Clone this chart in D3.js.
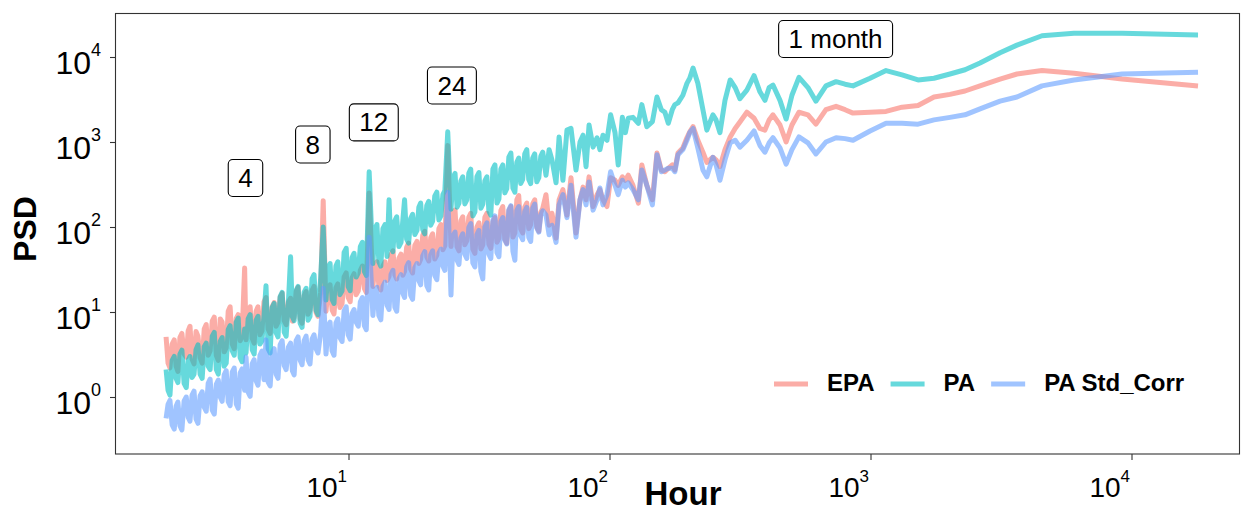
<!DOCTYPE html>
<html>
<head>
<meta charset="utf-8">
<script src="https://cdn.jsdelivr.net/npm/d3@7"></script>
<style>
body { margin: 0; background: #ffffff; }
svg { display: block; font-family: "Liberation Sans", Arial, sans-serif; }
</style>
</head>
<body>
<svg width="1241" height="512"></svg>
<script>
// period in hours, shared by the three spectra
var hours = [
    2.00, 2.035, 2.07, 2.11, 2.15, 2.185, 2.22, 2.26, 2.30, 2.345,
    2.39, 2.43, 2.47, 2.515, 2.56, 2.605, 2.65, 2.70, 2.75, 2.80,
    2.85, 2.90, 2.95, 3.005, 3.06, 3.115, 3.17, 3.225, 3.28, 3.34,
    3.40, 3.46, 3.52, 3.585, 3.65, 3.715, 3.78, 3.845, 3.91,
    4.00, 4.05,
    4.125, 4.20, 4.275, 4.35, 4.425, 4.50, 4.58, 4.66, 4.745, 4.83,
    4.92, 5.01, 5.10, 5.19, 5.28, 5.37, 5.47, 5.57, 5.67, 5.77,
    5.885, 6.00, 6.095, 6.19, 6.30, 6.41, 6.525, 6.64, 6.76, 6.88,
    7.00, 7.12, 7.25, 7.38, 7.51, 7.64,
    7.82, 8.00, 8.20,
    8.35, 8.50, 8.65, 8.80, 8.95, 9.10, 9.27, 9.45, 9.62, 9.80,
    9.97, 10.15, 10.32, 10.5, 10.7, 10.9, 11.1, 11.3, 11.5, 11.7,
    12.0, 12.4,
    12.62, 12.85, 13.07, 13.3, 13.55, 13.8, 14.05, 14.3, 14.55, 14.8,
    15.05, 15.3, 15.6, 15.9, 16.15, 16.4, 16.7, 17.0, 17.3, 17.6,
    17.95, 18.3, 18.6, 18.9, 19.25, 19.6, 19.95, 20.3, 20.65, 21.0,
    21.4, 21.8, 22.2, 22.6, 23.0, 23.4,
    24.0, 24.7,
    25.15, 25.6, 26.05, 26.5, 26.95, 27.4, 27.9, 28.4, 28.9, 29.4,
    29.95, 30.5, 31.05, 31.6, 32.15, 32.7, 33.3, 33.9, 34.5, 35.1,
    35.75, 36.4, 37.05, 37.7, 38.35, 39.0, 39.7, 40.4, 41.15, 41.9,
    42.65, 43.4, 44.15, 44.9, 45.7, 46.5, 47.35, 48.2, 49.05, 49.9,
    50.8, 51.7, 52.65, 53.6, 54.55, 55.5,
    57.1, 58.7, 60.2, 62.4, 64.1, 66.3, 68.7, 71.2, 74.4, 77.1,
    79.2, 81.3, 83.5, 86.5, 89.6, 91.9, 94.4, 97.8, 101, 105,
    108, 112, 115, 118, 123, 129, 133, 139, 146, 152,
    158, 163, 168, 174, 178, 183, 191, 198, 203, 209,
    218, 228, 236, 249, 256, 265, 277, 290, 303, 316,
    336, 358, 377, 394, 409, 423, 450, 475, 500, 532,
    576, 618, 675, 738, 799, 857, 996, 1147, 1321, 1521,
    1751, 2016, 2302, 2628, 3136, 3641, 4540, 6021, 9196, 17982
];

var psd_epa = [
    5.1, 2.5, 2.2, 4.2, 4.7, 2.3, 2.0, 5.0, 5.6, 3.2,
    2.95, 6.0, 6.8, 2.8, 2.45, 5.9, 5.2, 2.9, 2.5, 6.3,
    7.1, 3.1, 3.5, 7.8, 8.7, 3.1, 2.7, 8.3, 7.6, 3.4,
    3.8, 10.2, 11.5, 4.2, 3.7, 8.4, 9.3, 4.6, 5.2,
    33, 4.7,
    10.3, 11.5, 4.9, 4.3, 10.2, 11.5, 5.4, 6.0, 13.2, 14.8,
    6.3, 5.6, 11.6, 12.9, 6.8, 7.6, 14.9, 16.6, 7.9, 7.1,
    13.0, 14.5, 7.8, 8.7, 17.5, 19.5, 8.3, 7.4, 15.6, 17.4,
    9.4, 10.5, 18, 20, 9.9, 8.9,
    17, 204, 10.2,
    18.8, 20.9, 10.6, 9.5, 19.2, 21.4, 11.3, 12.6, 25.8, 28.8,
    14.8, 13.2, 25.3, 28.2, 16, 17.8, 31, 34.7, 19, 17,
    251, 20,
    34.8, 38.9, 20.4, 18.2, 34.8, 38.9, 23.5, 26.3, 47, 52.5,
    27.4, 24.5, 42.8, 47.9, 27, 30.2, 57.8, 64.6, 32.2, 28.8,
    60.5, 67.6, 37.3, 41.7, 79.7, 89.1, 44.5, 39.8, 74.4, 83.2,
    41.9, 46.8, 95.7, 107, 54, 60.3,
    912, 58.9,
    141, 158, 58.7, 52.5, 118, 132, 61.9, 69.2, 130, 145,
    54.8, 49, 100, 112, 55.2, 61.7, 130, 145, 62.8, 56.2,
    115, 129, 66.3, 74.1, 156, 174, 72.2, 64.6, 156, 174,
    76.1, 85.1, 209, 234, 95.2, 85.1, 171, 191, 95.7, 107,
    187, 209, 99.7, 89.1, 149, 166,
    240, 105, 145, 74, 209, 275, 138, 380, 85, 209,
    295, 209, 389, 174, 240, 275, 209, 174, 380, 355,
    309, 389, 355, 407, 309, 191, 537, 309, 209, 741,
    468, 447, 490, 537, 468, 741, 851, 1122, 1318, 1514,
    1047, 759, 575, 661, 617, 513, 813, 1148, 1445, 1720,
    2239, 1905, 1445, 1380, 1820, 2089, 1585, 1000, 1585, 2239,
    2089, 1622, 2399, 2630, 2399, 2188, 2239, 2291, 2570, 2690,
    3388, 3631, 3981, 4570, 5495, 6310, 6918, 6457, 5495, 4571
];

var psd_pa = [
    2.1, 1.2, 1.05, 2.7, 3.0, 1.65, 1.48, 3.2, 3.55, 1.45,
    1.29, 2.7, 3.0, 1.7, 1.86, 3.6, 4.1, 1.86, 1.66, 3.9,
    4.3, 2.3, 2.1, 5.2, 5.75, 2.1, 1.86, 4.5, 5.0, 2.3,
    2.5, 6.2, 6.9, 3.5, 3.1, 7.6, 8.5, 2.9, 2.6,
    6.3, 3.3,
    8.3, 9.3, 3.6, 3.2, 8.0, 8.9, 4.2, 4.6, 9.0, 20.4,
    3.7, 3.3, 11.3, 12.6, 5.7, 5.1, 15.2, 17, 5.8, 5.2,
    13, 44.7, 8.8, 7.9, 17.9, 20, 7.4, 6.6, 17, 19,
    8.0, 8.9, 24.6, 27.5, 10.4, 9.3,
    25, 100, 13.8,
    33.3, 37.2, 14.1, 12.6, 34.8, 38.9, 16, 17.8, 50.3, 56.2,
    19.9, 17.8, 43.8, 49, 25.8, 28.8, 59, 66, 30, 26.9,
    447, 37.2,
    95.7, 107, 38.8, 34.7, 95.7, 107, 45, 209, 57.4, 51.3,
    118, 132, 59, 66, 120, 209, 72, 64.6, 126, 141,
    81.6, 91.2, 171, 191, 93, 83.2, 179, 200, 105, 117,
    230, 257, 121, 135, 241, 269,
    1318, 162,
    382, 427, 171, 191, 348, 389, 187, 209, 428, 479,
    135, 151, 391, 437, 166, 186, 348, 389, 154, 138,
    480, 537, 191, 214, 480, 537, 252, 282, 663, 741,
    287, 257, 578, 646, 325, 363, 727, 813, 362, 324,
    648, 724, 340, 380, 679, 759,
    407, 813, 617, 331, 1148, 355, 1380, 1445, 468, 1000,
    1202, 513, 1585, 871, 1122, 813, 1202, 1047, 2089, 1288,
    537, 1950, 1288, 1905, 1950, 1660, 2754, 1514, 1738, 3388,
    2399, 2239, 1660, 2399, 2754, 2884, 3548, 4898, 5623, 7413,
    4898, 2399, 1380, 2089, 1820, 1288, 3090, 5370, 4365, 3236,
    4074, 6026, 3890, 3090, 4365, 4677, 3090, 1862, 3548, 5754,
    4365, 3020, 4571, 5129, 4786, 4571, 5623, 6918, 6166, 5370,
    5623, 6310, 7079, 8511, 11220, 13800, 17780, 19050, 19050, 18200
];

var psd_pa_std = [
    0.56, 0.82, 0.91, 0.47, 0.42, 0.78, 0.87, 0.46, 0.41, 0.9,
    1.0, 0.58, 0.52, 1.05, 1.17, 0.55, 0.49, 1.03, 1.15, 0.76,
    0.68, 1.45, 1.62, 0.7, 0.63, 1.41, 1.58, 1.0, 0.89, 1.82,
    2.04, 0.88, 0.79, 1.96, 2.19, 0.83, 0.74, 1.91, 2.14,
    1.2, 2.95,
    1.14, 1.02, 2.46, 2.75, 1.55, 1.38, 3.1, 3.47, 1.6, 4.7,
    1.5, 1.35, 3.3, 3.7, 1.86, 1.66, 4.1, 4.6, 2.35, 2.1,
    3.85, 4.3, 2.04, 1.82, 4.6, 5.1, 2.7, 2.4, 4.6, 5.2,
    2.75, 2.45, 4.8, 5.4, 3.7, 3.3,
    5.6, 19, 3.2,
    6.8, 7.6, 3.5, 3.1, 7.4, 8.3, 5.0, 4.5, 10.3, 11.5,
    5.4, 4.8, 9.6, 10.7, 7.6, 6.8, 13.2, 14.8, 6.9, 6.2,
    76, 9.1,
    17.4, 19.5, 9.1, 8.1, 20, 22.4, 12, 10.7, 27.6, 30.9,
    11.4, 10.2, 24.6, 27.5, 16.6, 14.8, 34, 38, 15.8, 14.1,
    33.3, 37.2, 23.4, 20.9, 45.9, 51.3, 20.4, 18.2, 47, 52.5,
    26.9, 24, 49.2, 55, 34.6, 30.9,
    257, 15.8,
    77.9, 87.1, 40.6, 36.3, 74.4, 83.2, 47.8, 42.7, 98.4, 110,
    37.9, 33.9, 81.6, 91.2, 30, 24.5, 100, 112, 47.8, 42.7,
    121, 135, 50, 44.7, 115, 129, 70.6, 63.1, 159, 178,
    52, 40.7, 156, 174, 79.2, 70.8, 152, 170, 75.6, 67.6,
    166, 186, 97.4, 87.1, 139, 155,
    138, 81, 105, 66, 182, 240, 129, 309, 76, 209,
    275, 182, 339, 158, 209, 288, 182, 240, 447, 309,
    240, 355, 295, 331, 275, 209, 468, 309, 182, 708,
    447, 468, 490, 490, 447, 708, 813, 1047, 1288, 1445,
    851, 468, 389, 661, 537, 355, 617, 977, 1047, 871,
    1047, 1349, 912, 759, 977, 1122, 851, 550, 813, 1148,
    977, 724, 1000, 1122, 1096, 1047, 1349, 1660, 1660, 1622,
    1820, 1950, 2089, 2455, 3020, 3388, 4571, 5370, 6310, 6607
];

var series_names = ["EPA", "PA", "PA Std_Corr"];
var series_colors = ["#F8766D", "#00BFC4", "#619CFF"];

var x_ticks = [10, 100, 1000, 10000];
var y_ticks = [1, 10, 100, 1000, 10000];

// boxed labels for the daily harmonics and the month
var note_labels = ["4", "8", "12", "24", "1 month"];
var note_hours = [4.03, 7.3, 12.5, 24.9, 735];
var note_psd = [377, 934, 1700, 4620, 16300];

var svg = d3.select("svg");
var panel = {left: 116, top: 14, right: 1240, bottom: 454};

//log scales, pinned on the decade ticks
var x = d3.scaleLog().domain([10, 10000]).range([348.5, 1131.5]);
var y = d3.scaleLog().domain([1, 10000]).range([397, 57]);

svg.append("defs").append("clipPath")
    .attr("id", "panel-clip")
  .append("rect")
    .attr("x", panel.left)
    .attr("y", panel.top)
    .attr("width", panel.right - panel.left)
    .attr("height", panel.bottom - panel.top);

//draw the three spectra, EPA first so PA and PA Std_Corr sit on top
var series_values = [psd_epa, psd_pa, psd_pa_std];
var line = d3.line()
    .x(function(d) { return x(d[0]); })
    .y(function(d) { return y(d[1]); });

var lines = svg.append("g")
    .attr("class", "lines")
    .attr("clip-path", "url(#panel-clip)");

series_values.forEach(function(vals, i) {
    var pts = hours.map(function(h, j) { return [h, vals[j]]; });
    lines.append("path")
        .datum(pts)
        .attr("d", line)
        .attr("fill", "none")
        .attr("stroke", series_colors[i])
        .attr("stroke-opacity", 0.6)
        .attr("stroke-width", 5)
        .attr("stroke-linejoin", "round");
});

//panel border
svg.append("rect")
    .attr("x", panel.left - 0.5)
    .attr("y", panel.top - 0.5)
    .attr("width", panel.right - panel.left)
    .attr("height", panel.bottom - panel.top + 0.5)
    .attr("fill", "none")
    .attr("stroke", "#333333")
    .attr("stroke-width", 1.1);

//axes: ticks from d3, labels written as 10 with a superscript
function power_label(sel, size, sup_size, dx, dy, rise) {
    sel.selectAll(".tick text").remove();
    sel.selectAll(".tick").append("text")
        .attr("x", dx)
        .attr("y", dy)
        .attr("text-anchor", "end")
        .attr("fill", "#000000")
        .style("font-size", size + "px")
        .each(function(d) {
            var t = d3.select(this);
            t.append("tspan").text("10");
            t.append("tspan")
                .attr("dy", -rise)
                .style("font-size", sup_size + "px")
                .text(Math.round(Math.log10(d)));
        });
}

var gx = svg.append("g")
    .attr("transform", "translate(0," + panel.bottom + ")")
    .call(d3.axisBottom(x).tickValues(x_ticks).tickSize(6).tickSizeOuter(0));
gx.attr("font-family", null).attr("font-size", null);
gx.select(".domain").remove();
gx.selectAll(".tick line").attr("stroke", "#333333").attr("stroke-width", 1.1);
power_label(gx, 28, 17, -2, 43, 15);

var gy = svg.append("g")
    .attr("transform", "translate(" + panel.left + ",0)")
    .call(d3.axisLeft(y).tickValues(y_ticks).tickSize(6).tickSizeOuter(0));
gy.attr("font-family", null).attr("font-size", null);
gy.select(".domain").remove();
gy.selectAll(".tick line").attr("stroke", "#333333").attr("stroke-width", 1.1);
power_label(gy, 32, 18, -15, 16, 18);

//axis titles
svg.append("text")
    .attr("transform", "translate(36,229) rotate(-90)")
    .attr("text-anchor", "middle")
    .style("font-size", "32px")
    .style("font-weight", "bold")
    .text("PSD");

svg.append("text")
    .attr("x", 683)
    .attr("y", 505)
    .attr("text-anchor", "middle")
    .style("font-size", "33px")
    .style("font-weight", "bold")
    .text("Hour");

//boxed period labels
var notes = svg.append("g").attr("class", "notes");
note_labels.forEach(function(lab, i) {
    var cx = x(note_hours[i]),
        cy = y(note_psd[i]);
    var g = notes.append("g");
    var box = g.append("rect");
    var txt = g.append("text")
        .attr("x", cx)
        .attr("y", cy + 9)
        .attr("text-anchor", "middle")
        .style("font-size", "26px")
        .text(lab);
    var w = txt.node().getComputedTextLength() + 20;
    box.attr("x", cx - w / 2)
        .attr("y", cy - 18.5)
        .attr("width", w)
        .attr("height", 37)
        .attr("rx", 4.5)
        .attr("fill", "#ffffff")
        .attr("stroke", "#000000")
        .attr("stroke-width", 1.1);
});

//legend inside the panel, bottom right
var legend = svg.append("g").attr("class", "legend");
var leg_x = 774, leg_y = 384;
series_names.forEach(function(name, i) {
    legend.append("line")
        .attr("x1", leg_x)
        .attr("x2", leg_x + 34)
        .attr("y1", leg_y)
        .attr("y2", leg_y)
        .attr("stroke", series_colors[i])
        .attr("stroke-opacity", 0.6)
        .attr("stroke-width", 5);
    var t = legend.append("text")
        .attr("x", leg_x + 53)
        .attr("y", leg_y + 7)
        .style("font-size", "24px")
        .style("font-weight", "bold")
        .text(name);
    leg_x += 53 + t.node().getComputedTextLength() + 16;
});
</script>
</body>
</html>
